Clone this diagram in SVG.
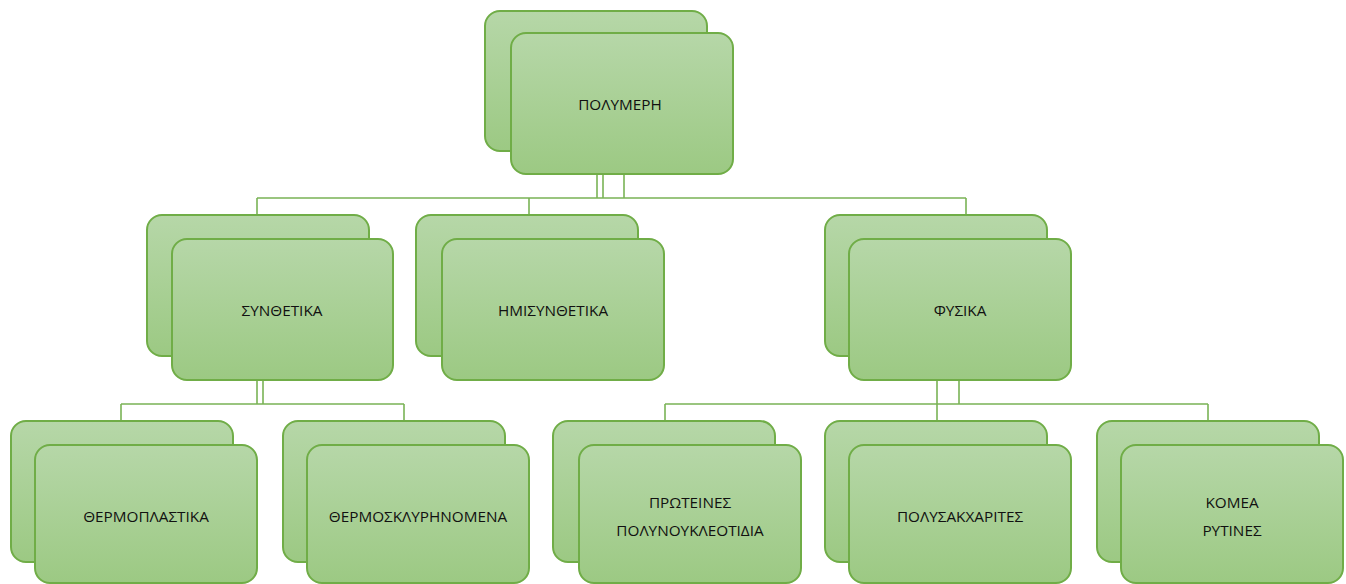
<svg xmlns="http://www.w3.org/2000/svg" width="1346" height="584" viewBox="0 0 1346 584">
<defs>
<linearGradient id="g" x1="0" y1="0" x2="0" y2="1">
<stop offset="0" stop-color="#b6d7a8"/>
<stop offset="1" stop-color="#9cc983"/>
</linearGradient>
<style>
.b{fill:url(#g);stroke:#70ad47;stroke-width:2}
.c{fill:none;stroke:#7ab356;stroke-width:1.6}
.t{font-family:"Open Sans","Liberation Sans",sans-serif;font-size:15.3px;fill:#111;text-anchor:middle;dominant-baseline:central}
</style>
</defs>
<rect width="1346" height="584" fill="#fff"/>
<g id="connectors" class="c">
<path d="M597 174V198M603 174V198M624 174V198M257 198H966M257 198V215M529 198V215M966 198V215"/>
<path d="M257 380V404M263 380V404M121 404H404M121 404V421M404 404V421"/>
<path d="M937 380V421M959 380V404M665 404H1208M665 404V421M1208 404V421"/>
</g>
<g id="n-polymeri">
<rect class="b" x="485" y="11" width="222" height="140" rx="15"/>
<rect class="b" x="511" y="33" width="222" height="141" rx="15"/>
<text class="t" x="620" y="104">ΠΟΛΥΜΕΡΗ</text>
</g>
<g id="n-synthetika">
<rect class="b" x="147" y="215" width="222" height="141" rx="15"/>
<rect class="b" x="172" y="239" width="221" height="141" rx="15"/>
<text class="t" x="282" y="310">ΣΥΝΘΕΤΙΚΑ</text>
</g>
<g id="n-imisynthetika">
<rect class="b" x="416" y="215" width="222" height="141" rx="15"/>
<rect class="b" x="442" y="239" width="222" height="141" rx="15"/>
<text class="t" x="553" y="310">ΗΜΙΣΥΝΘΕΤΙΚΑ</text>
</g>
<g id="n-fysika">
<rect class="b" x="825" y="215" width="222" height="141" rx="15"/>
<rect class="b" x="849" y="239" width="222" height="141" rx="15"/>
<text class="t" x="960" y="310">ΦΥΣΙΚΑ</text>
</g>
<g id="n-thermoplastika">
<rect class="b" x="11" y="421" width="222" height="141" rx="15"/>
<rect class="b" x="35" y="445" width="222" height="138" rx="15"/>
<text class="t" x="146" y="516">ΘΕΡΜΟΠΛΑΣΤΙΚΑ</text>
</g>
<g id="n-thermosklirinomena">
<rect class="b" x="283" y="421" width="222" height="141" rx="15"/>
<rect class="b" x="307" y="445" width="222" height="138" rx="15"/>
<text class="t" x="418" y="516">ΘΕΡΜΟΣΚΛΥΡΗΝΟΜΕΝΑ</text>
</g>
<g id="n-proteines">
<rect class="b" x="553" y="421" width="222" height="141" rx="15"/>
<rect class="b" x="579" y="445" width="222" height="138" rx="15"/>
<text class="t" x="690" y="502">ΠΡΩΤΕΙΝΕΣ</text>
<text class="t" x="690" y="530">ΠΟΛΥΝΟΥΚΛΕΟΤΙΔΙΑ</text>
</g>
<g id="n-polysakcharites">
<rect class="b" x="825" y="421" width="222" height="141" rx="15"/>
<rect class="b" x="849" y="445" width="222" height="138" rx="15"/>
<text class="t" x="960" y="516">ΠΟΛΥΣΑΚΧΑΡΙΤΕΣ</text>
</g>
<g id="n-komea">
<rect class="b" x="1097" y="421" width="222" height="141" rx="15"/>
<rect class="b" x="1121" y="445" width="222" height="138" rx="15"/>
<text class="t" x="1232" y="502">ΚΟΜΕΑ</text>
<text class="t" x="1232" y="530">ΡΥΤΙΝΕΣ</text>
</g>
</svg>
